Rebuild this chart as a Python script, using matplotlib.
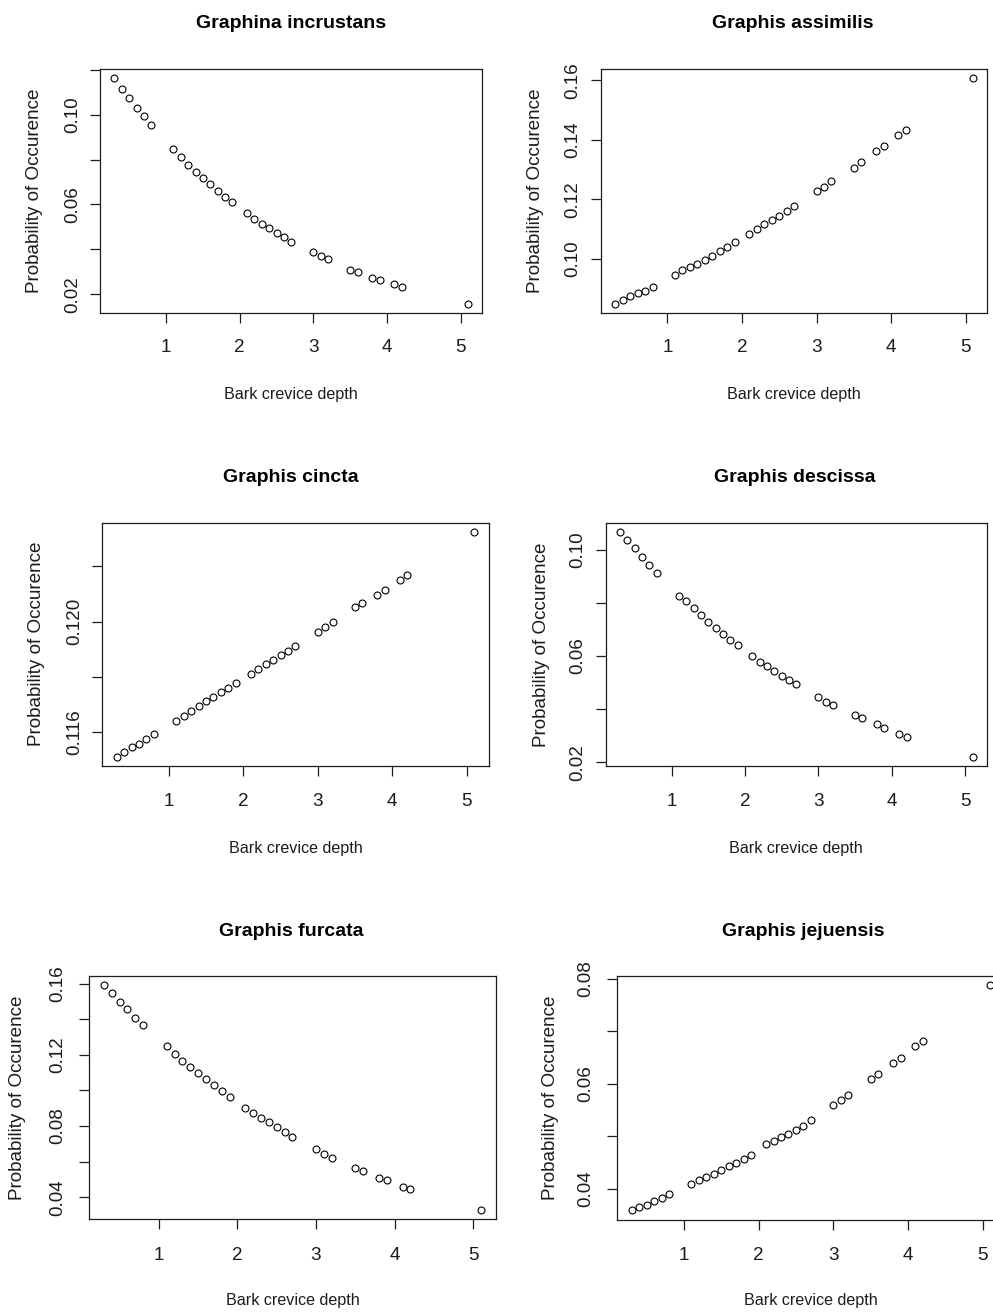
import matplotlib
matplotlib.use("Agg")
import matplotlib.pyplot as plt

W, H, DPI = 993, 1313, 100

# Bark crevice depth values shared by every species
bark_depth = [0.3, 0.4, 0.5, 0.6, 0.7, 0.8,
              1.1, 1.2, 1.3, 1.4, 1.5, 1.6, 1.7, 1.8, 1.9,
              2.1, 2.2, 2.3, 2.4, 2.5, 2.6, 2.7,
              3.0, 3.1, 3.2, 3.5, 3.6, 3.8, 3.9, 4.1, 4.2, 5.1]

species = ["Graphina incrustans", "Graphis assimilis", "Graphis cincta",
           "Graphis descissa", "Graphis furcata", "Graphis jejuensis"]

prob_incrustans = [0.1162, 0.1116, 0.1073, 0.1030, 0.0994, 0.0955,
                   0.0848, 0.0810, 0.0777, 0.0746, 0.0719, 0.0691, 0.0661, 0.0633, 0.0610,
                   0.0563, 0.0536, 0.0514, 0.0494, 0.0472, 0.0454, 0.0435,
                   0.0387, 0.0369, 0.0355, 0.0310, 0.0297, 0.0274, 0.0264, 0.0245, 0.0231, 0.0158]
prob_assimilis = [0.0849, 0.0863, 0.0874, 0.0884, 0.0893, 0.0906,
                  0.0947, 0.0962, 0.0974, 0.0984, 0.0997, 0.1009, 0.1025, 0.1039, 0.1056,
                  0.1085, 0.1100, 0.1116, 0.1129, 0.1145, 0.1161, 0.1178,
                  0.1227, 0.1242, 0.1260, 0.1307, 0.1324, 0.1361, 0.1380, 0.1417, 0.1434, 0.1607]
prob_cincta = [0.11513, 0.11529, 0.11546, 0.11558, 0.11575, 0.11595,
               0.11642, 0.11660, 0.11676, 0.11694, 0.11712, 0.11729, 0.11744, 0.11759, 0.11779,
               0.11812, 0.11829, 0.11845, 0.11862, 0.11878, 0.11894, 0.11913,
               0.11963, 0.11980, 0.11998, 0.12051, 0.12068, 0.12097, 0.12115, 0.12150, 0.12169, 0.12324]
prob_descissa = [0.1068, 0.1037, 0.1005, 0.0972, 0.0941, 0.0913,
                 0.0827, 0.0806, 0.0779, 0.0755, 0.0728, 0.0707, 0.0683, 0.0661, 0.0642,
                 0.0601, 0.0579, 0.0561, 0.0542, 0.0526, 0.0510, 0.0493,
                 0.0447, 0.0428, 0.0415, 0.0379, 0.0365, 0.0343, 0.0329, 0.0306, 0.0297, 0.0220]
prob_furcata = [0.1592, 0.1545, 0.1496, 0.1456, 0.1409, 0.1368,
                0.1247, 0.1206, 0.1166, 0.1133, 0.1097, 0.1065, 0.1031, 0.0997, 0.0961,
                0.0901, 0.0875, 0.0848, 0.0820, 0.0794, 0.0765, 0.0739,
                0.0669, 0.0643, 0.0622, 0.0562, 0.0549, 0.0509, 0.0496, 0.0460, 0.0447, 0.0327]
prob_jejuensis = [0.03585, 0.03655, 0.03694, 0.03758, 0.03828, 0.03892,
                  0.04089, 0.04160, 0.04217, 0.04287, 0.04364, 0.04440, 0.04491, 0.04568, 0.04650,
                  0.0485, 0.0491, 0.0498, 0.0505, 0.0512, 0.0519, 0.0530,
                  0.05601, 0.05691, 0.05780, 0.06086, 0.06182, 0.06386, 0.06488, 0.06712, 0.06820, 0.07879]

x_ticks = [1, 2, 3, 4, 5]
x_tick_labels = ["1", "2", "3", "4", "5"]

# y ticks; alternate labels are left blank where they would crowd each other
yt_incrustans = [0.02, 0.04, 0.06, 0.08, 0.10, 0.12]
yl_incrustans = ["0.02", "", "0.06", "", "0.10", ""]
yt_assimilis = [0.10, 0.12, 0.14, 0.16]
yl_assimilis = ["0.10", "0.12", "0.14", "0.16"]
yt_cincta = [0.116, 0.118, 0.120, 0.122]
yl_cincta = ["0.116", "", "0.120", ""]
yt_descissa = [0.02, 0.04, 0.06, 0.08, 0.10]
yl_descissa = ["0.02", "", "0.06", "", "0.10"]
yt_furcata = [0.04, 0.06, 0.08, 0.10, 0.12, 0.14, 0.16]
yl_furcata = ["0.04", "", "0.08", "", "0.12", "", "0.16"]
yt_jejuensis = [0.04, 0.05, 0.06, 0.07, 0.08]
yl_jejuensis = ["0.04", "", "0.06", "", "0.08"]

x_label = "Bark crevice depth"
y_label = "Probability of Occurence"

# panel box (left, top, right, bottom) in pixels, title x-centre,
# and offsets: title above, tick labels below, xlabel below, ytick left, ylabel left
layout = [
    ((100.3, 69.3, 482.3, 312.7), 291, (45.3, 35.3, 82.3, 27.6, 65.3)),
    ((601.0, 69.3, 987.3, 312.7), 793, (45.3, 35.3, 82.3, 28.3, 66.0)),
    ((102.3, 522.7, 488.5, 765.5), 291, (44.7, 35.5, 82.5, 27.3, 65.3)),
    ((606.0, 522.7, 986.7, 766.0), 795, (44.7, 35.0, 82.0, 28.0, 65.0)),
    ((88.7, 976.0, 496.2, 1219.3), 291, (45.0, 36.0, 81.0, 30.7, 70.7)),
    ((617.3, 976.0, 1004.5, 1219.5), 803, (45.0, 36.0, 81.0, 32.0, 67.0)),
]

series = [
    (prob_incrustans, yt_incrustans, yl_incrustans),
    (prob_assimilis, yt_assimilis, yl_assimilis),
    (prob_cincta, yt_cincta, yl_cincta),
    (prob_descissa, yt_descissa, yl_descissa),
    (prob_furcata, yt_furcata, yl_furcata),
    (prob_jejuensis, yt_jejuensis, yl_jejuensis),
]

INK = "#1c1c1c"
REG = ["Liberation Sans", "DejaVu Sans"]
PT = 72.0 / DPI          # points per pixel
TICK_PX = 10.0

fig = plt.figure(figsize=(W / DPI, H / DPI), dpi=DPI)
fig.patch.set_facecolor("white")


def fx(px):
    return px / W


def fy(py):
    return 1.0 - py / H


for name, (vals, yt, yl), (box, tx, offs) in zip(species, series, layout):
    L, T, R, B = box
    d_title, d_xt, d_xl, d_yt, d_yl = offs
    ax = fig.add_axes([fx(L), fy(B), (R - L) / W, (B - T) / H])
    ax.plot(bark_depth, vals, linestyle="none", marker="o",
            markerfacecolor="none", markeredgecolor="black",
            markersize=5.0, markeredgewidth=0.8)
    ax.margins(x=0.04, y=0.04)

    ax.set_xticks(x_ticks)
    ax.set_xticklabels(x_tick_labels)
    ax.set_yticks(yt)
    ax.set_yticklabels(yl)

    for s in ax.spines.values():
        s.set_color(INK)
        s.set_linewidth(0.9)

    ax.tick_params(direction="out", length=TICK_PX * PT, width=0.9,
                   color=INK, labelcolor=INK, labelsize=13.6)
    ax.tick_params(axis="x", pad=(d_xt - TICK_PX) * PT)
    ax.tick_params(axis="y", pad=(d_yt - TICK_PX) * PT)
    for lab in ax.get_xticklabels():
        lab.set_fontfamily(REG)
        lab.set_va("center")
    for lab in ax.get_yticklabels():
        lab.set_fontfamily(REG)
        lab.set_rotation(90)
        lab.set_ha("center")
        lab.set_va("center")

    fig.text(fx(tx), fy(T - d_title), name, ha="center", va="center",
             fontsize=14, fontweight="bold", family=REG, color="black")
    fig.text(fx((L + R) / 2), fy(B + d_xl), x_label, ha="center", va="center",
             fontsize=11.6, family=REG, color=INK)
    fig.text(fx(L - d_yl), fy((T + B) / 2), y_label, ha="center", va="center",
             rotation=90, fontsize=13.6, family=REG, color=INK)

fig.savefig("out.png", dpi=DPI, facecolor="white")
